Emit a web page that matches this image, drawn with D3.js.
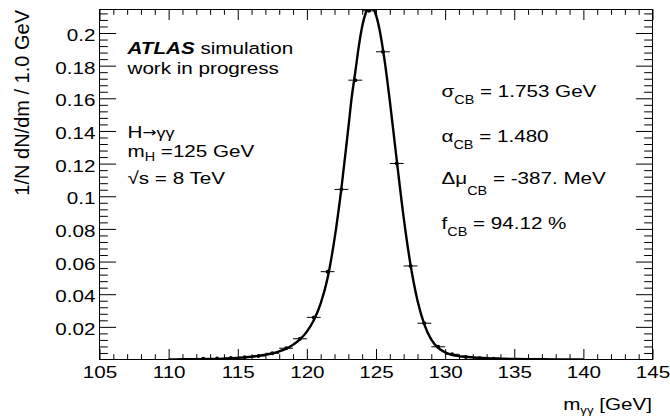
<!DOCTYPE html>
<html><head><meta charset="utf-8">
<script src="https://cdn.jsdelivr.net/npm/d3@7"></script>
<style>
body{margin:0;background:#fff;}
text{font-family:"Liberation Sans",Arial,Helvetica,sans-serif;fill:#000;}
</style></head><body>
<svg id="chart" width="670" height="418"></svg>
<script>
// ---- data ----
const binCenters=[112.5,113.5,114.5,115.5,116.5,117.5,118.5,119.5,120.5,121.5,122.5,123.5,124.5,125.5,126.5,127.5,128.5,129.5,130.5,131.5,132.5,133.5];
const binValues=[0.0004,0.0006,0.0009,0.0014,0.0022,0.0038,0.0069,0.0127,0.0258,0.0538,0.1042,0.1711,0.2136,0.1885,0.1201,0.0573,0.0222,0.0078,0.0032,0.0015,0.0008,0.0004];
const binHalfWidth=0.5;
const curveX=[110,111,112,113,114,114.5,115,115.5,116,116.5,117,117.5,118,118.5,119,119.5,120,120.5,121,121.5,122,122.5,123,123.25,123.5,123.75,124,124.25,124.5,124.6,124.75,125,125.25,125.5,125.75,126,126.25,126.5,127,127.5,128,128.5,129,129.5,130,130.5,131,131.5,132,132.5,133,134,135,136,138,140];
const curveY=[0.00007,0.00012,0.0002,0.00033,0.00056,0.00074,0.0010,0.0013,0.0017,0.0022,0.0029,0.0038,0.0050,0.0067,0.0091,0.0124,0.0171,0.0240,0.0344,0.0500,0.0739,0.1050,0.1420,0.1610,0.1760,0.1915,0.2040,0.2121,0.2160,0.2163,0.2155,0.2109,0.2023,0.1901,0.1753,0.1584,0.1404,0.1221,0.0871,0.0579,0.0362,0.0214,0.0122,0.0071,0.0044,0.0029,0.0021,0.0017,0.0013,0.0011,0.00086,0.00054,0.0003,0.0002,0.0001,0.00003];
const xTicks=[105,110,115,120,125,130,135,140,145];
const xTickLabels=["105","110","115","120","125","130","135","140","145"];
const yTicks=[0.02,0.04,0.06,0.08,0.1,0.12,0.14,0.16,0.18,0.2];
const yTickLabels=["0.02","0.04","0.06","0.08","0.1","0.12","0.14","0.16","0.18","0.2"];
const xMinorTicks=d3.range(105,146,1).filter(v=>v%5!==0);
const yMinorTicks=d3.range(1,54).map(i=>i*0.004).filter(v=>Math.abs(v/0.02-Math.round(v/0.02))>1e-6);

// ---- layout ----
const L=99.5,R=652.5,T=9.5,B=359.5;
const SX=1.2, FS=17.2;
const svg=d3.select("#chart");
const x=d3.scaleLinear().domain([105,145]).range([L,R]);
const y=d3.scaleLinear().domain([0,0.2144]).range([B,T]);

function styleAxis(g){g.select(".domain").remove();g.selectAll("line").attr("stroke","#000").attr("stroke-width",1);}

// minor ticks
svg.append("g").attr("transform",`translate(0,${B})`).call(d3.axisBottom(x).tickValues(xMinorTicks).tickFormat("").tickSizeInner(-5.3).tickSizeOuter(0)).call(styleAxis);
svg.append("g").attr("transform",`translate(0,${T})`).call(d3.axisTop(x).tickValues(xMinorTicks).tickFormat("").tickSizeInner(-5.3).tickSizeOuter(0)).call(styleAxis);
svg.append("g").attr("transform",`translate(${L},0)`).call(d3.axisLeft(y).tickValues(yMinorTicks).tickFormat("").tickSizeInner(-8.3).tickSizeOuter(0)).call(styleAxis);
svg.append("g").attr("transform",`translate(${R},0)`).call(d3.axisRight(y).tickValues(yMinorTicks).tickFormat("").tickSizeInner(-8.3).tickSizeOuter(0)).call(styleAxis);

// major ticks + labels
const gx=svg.append("g").attr("transform",`translate(0,${B})`)
  .call(d3.axisBottom(x).tickValues(xTicks).tickFormat((d,i)=>xTickLabels[i]).tickSizeInner(-10.5).tickSizeOuter(0)).call(styleAxis);
gx.selectAll("text").attr("y",null).attr("dy",null).attr("font-size",FS).attr("font-family","Liberation Sans").attr("fill","#000")
  .attr("transform",`translate(0,18) scale(${SX},1)`);
svg.append("g").attr("transform",`translate(0,${T})`).call(d3.axisTop(x).tickValues(xTicks).tickFormat("").tickSizeInner(-10.5).tickSizeOuter(0)).call(styleAxis);
const gy=svg.append("g").attr("transform",`translate(${L},0)`)
  .call(d3.axisLeft(y).tickValues(yTicks).tickFormat((d,i)=>yTickLabels[i]).tickSizeInner(-16.6).tickSizeOuter(0)).call(styleAxis);
gy.selectAll("text").attr("x",null).attr("dy",null).attr("font-size",FS).attr("font-family","Liberation Sans").attr("fill","#000")
  .attr("transform",`translate(-4,7.5) scale(${SX},1)`);
svg.append("g").attr("transform",`translate(${R},0)`).call(d3.axisRight(y).tickValues(yTicks).tickFormat("").tickSizeInner(-16.6).tickSizeOuter(0)).call(styleAxis);

// frame
svg.append("rect").attr("x",L).attr("y",T).attr("width",R-L).attr("height",B-T).attr("fill","none").attr("stroke","#000").attr("stroke-width",1);

// clip
svg.append("clipPath").attr("id","clip").append("rect").attr("x",L).attr("y",T).attr("width",R-L).attr("height",B-T);

// data points
const pts=svg.append("g").attr("clip-path","url(#clip)");
binCenters.forEach((c,i)=>{
  pts.append("line").attr("x1",x(c-binHalfWidth)).attr("x2",x(c+binHalfWidth)).attr("y1",y(binValues[i])).attr("y2",y(binValues[i])).attr("stroke","#000").attr("stroke-width",1);
  pts.append("circle").attr("cx",x(c)).attr("cy",y(binValues[i])).attr("r",2).attr("fill","#000");
});

// fit curve
const line=d3.line().x(d=>x(d[0])).y(d=>y(d[1])).curve(d3.curveMonotoneX);
svg.append("path").attr("clip-path","url(#clip)").datum(curveX.map((v,i)=>[v,curveY[i]]))
  .attr("d",line).attr("fill","none").attr("stroke","#000").attr("stroke-width",2.4).attr("stroke-linejoin","round");

// text helper
function label(px,py,parts,anchor){
  const t=svg.append("text").attr("transform",`translate(${px},${py}) scale(${SX},1)`).attr("font-size",FS).attr("text-anchor",anchor||"start");
  parts.forEach(p=>{
    const s=t.append("tspan").text(p.t);
    if(p.fs) s.attr("font-size",p.fs);
    if(p.dy) s.attr("dy",p.dy);
    if(p.bold) s.attr("font-weight","bold");
    if(p.italic) s.attr("font-style","italic");
    if(p.ff) s.attr("font-family",p.ff);
  });
  return t;
}

// axis titles
label(652,410,[{t:"m"},{t:"γγ",fs:11,dy:4},{t:" [GeV]",dy:-4}],"end");
svg.append("text").attr("transform","translate(29,10) rotate(-90)").attr("text-anchor","end").attr("font-size",20).text("1/N dN/dm / 1.0 GeV");

// info texts
label(127.5,53.5,[{t:"ATLAS",bold:true,italic:true},{t:" simulation"}]);
label(127.5,73.5,[{t:"work in progress"}]);
label(127.5,137.5,[{t:"H"},{t:"→",fs:14,ff:"DejaVu Sans",dy:-1},{t:"γγ",fs:15,dy:1}]);
label(127.5,157,[{t:"m"},{t:"H",fs:12,dy:4},{t:" =125 GeV",dy:-4}]);
label(127.5,183.5,[{t:"√s = 8 TeV"}]);

label(441.5,96.7,[{t:"σ"},{t:"CB",fs:12,dy:7},{t:" = 1.753 GeV",dy:-7}]);
label(441.5,142.3,[{t:"α"},{t:"CB",fs:12,dy:7},{t:" = 1.480",dy:-7}]);
label(441.5,184,[{t:"Δμ"},{t:"CB",fs:12,dy:11},{t:" = -387. MeV",dy:-11}]);
label(441.5,229.3,[{t:"f"},{t:"CB",fs:12,dy:7},{t:" = 94.12 %",dy:-7}]);
</script>
</body></html>
